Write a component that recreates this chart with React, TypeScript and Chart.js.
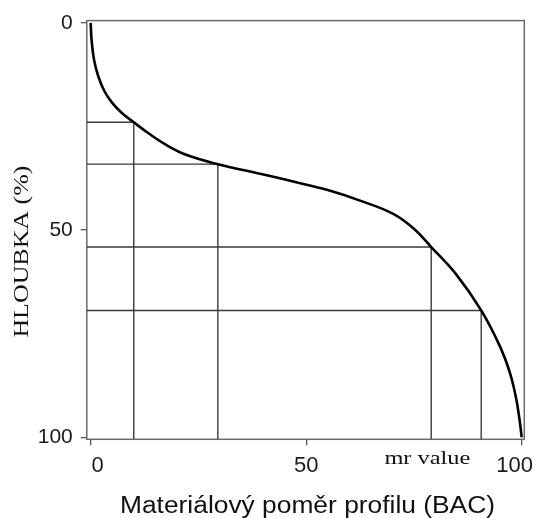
import React, { useEffect, useRef } from "react";
import { Chart, registerables } from "chart.js";
Chart.register(...registerables);

// Abbott-Firestone (bearing area) curve
const curveX = [0, 0.2, 0.8, 1.8, 3.2, 5.0, 7.3, 10.0, 13.5, 17.6, 22.3, 29.5, 39.3, 47.0, 54.8, 62.5, 70.2, 75.0, 79.0, 84.8, 90.6, 95.0, 97.3, 98.7, 99.5, 100];
const curveY = [0, 4.0, 9.0, 13.0, 16.5, 19.3, 21.8, 24.0, 26.7, 29.5, 31.9, 34.1, 36.4, 38.3, 40.3, 42.9, 46.1, 49.7, 54.1, 60.7, 69.4, 78.2, 84.6, 90.6, 95.8, 100];

// construction lines: depth level -> material ratio on the curve
const markerX = [10.0, 29.5, 79.0, 90.6];
const markerY = [24.0, 34.1, 54.1, 69.4];

const xTickValues = [0, 50, 100];
const yTickValues = [0, 50, 100];
const xTickLabels = ["0", "50", "100"];

const xTitle = "Materiálový poměr profilu (BAC)";
const yTitle = "HLOUBKA (%)";
const noteText = "mr value";
const noteAt = 78;

const X_MIN = -0.9;
const X_MAX = 100.6;
const Y_MIN = -0.55;
const Y_MAX = 100.5;

function drawStretched(
  ctx: CanvasRenderingContext2D,
  text: string,
  x: number,
  y: number,
  width: number,
  font: string,
  rot: number
) {
  ctx.save();
  ctx.font = font;
  const w = ctx.measureText(text).width;
  ctx.translate(x, y);
  ctx.rotate(rot);
  ctx.scale(width / w, 1);
  ctx.textAlign = "center";
  ctx.textBaseline = "alphabetic";
  ctx.fillStyle = "#111";
  ctx.fillText(text, 0, 0);
  ctx.restore();
}

const decorPlugin = {
  id: "decor",
  beforeDatasetsDraw(chart: any) {
    const { ctx, chartArea } = chart;
    ctx.save();
    ctx.strokeStyle = "#6a6a6a";
    ctx.lineWidth = 1.5;
    ctx.strokeRect(chartArea.left, chartArea.top, chartArea.right - chartArea.left, chartArea.bottom - chartArea.top);
    ctx.restore();
  },
  afterDraw(chart: any) {
    const { ctx, chartArea } = chart;
    const xs = chart.scales.x;
    const shifts = [7, 0, -7];
    ctx.save();
    ctx.font = '22px "Liberation Sans", Arial, sans-serif';
    ctx.fillStyle = "#1a1a1a";
    ctx.textAlign = "center";
    ctx.textBaseline = "alphabetic";
    xTickValues.forEach((v, i) => {
      ctx.fillText(xTickLabels[i], xs.getPixelForValue(v) + shifts[i], chartArea.bottom + 32.5);
    });
    ctx.restore();

    drawStretched(ctx, noteText, xs.getPixelForValue(noteAt) + 0.5, chartArea.bottom + 25, 86, '18px "Liberation Serif", serif', 0);
    drawStretched(ctx, xTitle, xs.getPixelForValue(50) + 1.3, 513, 375, '23px "Liberation Sans", Arial, sans-serif', 0);
    drawStretched(ctx, yTitle, 28.3, 251.6, 172, '20px "Liberation Serif", serif', -Math.PI / 2);
  },
};

export default function App() {
  const ref = useRef<HTMLCanvasElement | null>(null);

  useEffect(() => {
    document.body.style.margin = "0";
    const canvas = ref.current;
    if (!canvas) return;

    const curve = curveX.map((x, i) => ({ x, y: curveY[i] }));
    const guides = markerX.map((mx, i) => ({
      data: [
        { x: X_MIN, y: markerY[i] },
        { x: mx, y: markerY[i] },
        { x: mx, y: Y_MAX },
      ],
      borderColor: "#3a3a3a",
      borderWidth: 1.4,
      pointRadius: 0,
      tension: 0,
      fill: false,
    }));

    const chart = new Chart(canvas, {
      type: "line",
      data: {
        datasets: [
          {
            data: curve,
            borderColor: "#000",
            borderWidth: 2.6,
            pointRadius: 0,
            tension: 0.4,
            fill: false,
            clip: false,
          } as any,
          ...guides,
        ],
      },
      options: {
        animation: false,
        responsive: false,
        devicePixelRatio: 1,
        layout: { padding: { top: 20, right: 8.7, bottom: 0, left: 0 } },
        plugins: { legend: { display: false }, tooltip: { enabled: false } },
        scales: {
          x: {
            type: "linear",
            min: X_MIN,
            max: X_MAX,
            afterBuildTicks: (s: any) => {
              s.ticks = xTickValues.map((v) => ({ value: v }));
            },
            afterFit: (s: any) => {
              s.height = 78.7;
            },
            ticks: { display: false },
            grid: { drawOnChartArea: false, drawTicks: true, tickLength: 6, color: "#555", lineWidth: 1.3 },
            border: { display: false },
          },
          y: {
            type: "linear",
            reverse: true,
            min: Y_MIN,
            max: Y_MAX,
            afterBuildTicks: (s: any) => {
              s.ticks = yTickValues.map((v) => ({ value: v }));
            },
            afterFit: (s: any) => {
              s.width = 86.8;
            },
            ticks: {
              padding: 8,
              color: "#1a1a1a",
              font: { family: '"Liberation Sans", Arial, sans-serif', size: 21 },
            },
            grid: { drawOnChartArea: false, drawTicks: true, tickLength: 6, color: "#555", lineWidth: 1.3 },
            border: { display: false },
          },
        },
      } as any,
      plugins: [decorPlugin],
    });

    return () => chart.destroy();
  }, []);

  return (
    <div style={{ width: 533, height: 518, background: "#fff" }}>
      <canvas ref={ref} width={533} height={518} style={{ display: "block" }} />
    </div>
  );
}
